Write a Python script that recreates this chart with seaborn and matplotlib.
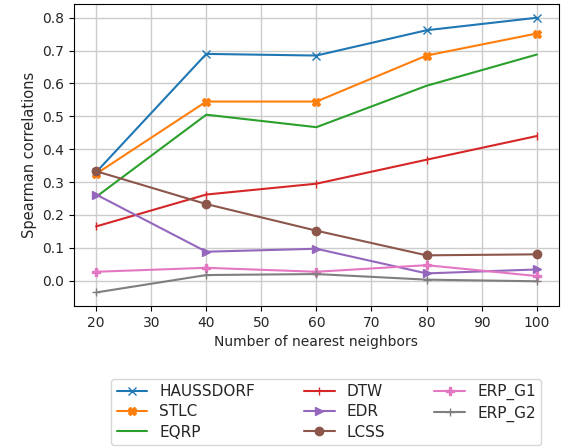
import matplotlib
matplotlib.use("Agg")
import matplotlib.pyplot as plt
import seaborn as sns

neighbors = [20, 40, 60, 80, 100]

haussdorf = [0.330, 0.690, 0.685, 0.762, 0.800]
stlc = [0.325, 0.545, 0.545, 0.685, 0.752]
eqrp = [0.255, 0.505, 0.467, 0.593, 0.688]
dtw = [0.165, 0.262, 0.295, 0.368, 0.440]
edr = [0.262, 0.088, 0.097, 0.022, 0.034]
lcss = [0.333, 0.233, 0.152, 0.077, 0.080]
erp_g1 = [0.027, 0.039, 0.027, 0.047, 0.014]
erp_g2 = [-0.036, 0.017, 0.020, 0.003, -0.002]

series = [
    ("HAUSSDORF", haussdorf, "x"),
    ("STLC", stlc, "X"),
    ("EQRP", eqrp, ","),
    ("DTW", dtw, "|"),
    ("EDR", edr, ">"),
    ("LCSS", lcss, "o"),
    ("ERP_G1", erp_g1, "P"),
    ("ERP_G2", erp_g2, "+"),
]

sns.set_style("ticks")
palette = sns.color_palette("tab10")

fig = plt.figure(figsize=(5.79, 4.47), dpi=100)
ax = fig.add_axes([0.128, 0.315, 0.837, 0.676])

for i, (name, vals, mk) in enumerate(series):
    c = palette[i]
    sns.lineplot(x=neighbors, y=vals, ax=ax, color=c, marker=mk,
                 markersize=6, markeredgecolor=c, markerfacecolor=c,
                 markeredgewidth=1, linewidth=1.5, label=name)

ax.grid(True, color="#cccccc", linewidth=1.0)
ax.set_axisbelow(True)
ax.set_xticks([20, 30, 40, 50, 60, 70, 80, 90, 100])
ax.set_yticks([0.0, 0.1, 0.2, 0.3, 0.4, 0.5, 0.6, 0.7, 0.8])
ax.tick_params(labelsize=10, length=3.5, width=0.8, color="black")
for s in ax.spines.values():
    s.set_color("black")
    s.set_linewidth(0.8)
ax.set_xlabel("Number of nearest neighbors", fontsize=10)
ax.set_ylabel("Spearman correlations", fontsize=10.5)

ax.legend(loc="upper center", bbox_to_anchor=(0.52, -0.215), ncol=3,
          fontsize=11, frameon=True, handlelength=2.0, columnspacing=3.2,
          labelspacing=0.35, borderpad=0.35)

fig.savefig("out.png", dpi=100)
